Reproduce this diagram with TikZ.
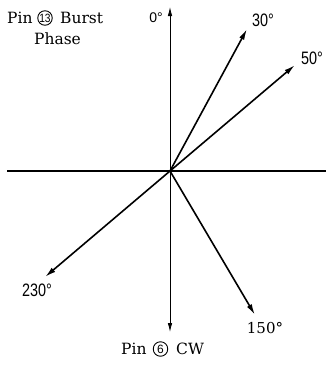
\documentclass[tikz,border=0pt]{standalone}
\usepackage{fontspec}
\usepackage{graphicx}
\setmainfont{DejaVu Serif}
\newfontfamily\numf{Liberation Sans}
\usetikzlibrary{arrows.meta}
\tikzset{
  vec/.style={line width=1.6pt,-{Latex[length=11pt,width=5.5pt]}},
  axisarrow/.style={line width=0.8pt,-{Latex[length=9pt,width=4.5pt]}},
  axisline/.style={line width=1.1pt},
  lbl/.style={font=\fontsize{15.5}{15.5}\selectfont,inner sep=0pt},
  numlbl/.style={font=\numf\fontsize{18}{18}\selectfont,inner sep=0pt},
  circnum/.style={circle,draw,line width=0.9pt,inner sep=0pt,minimum size=14.5pt,font=\numf\fontsize{12}{12}\selectfont}
}
\begin{document}
\begin{tikzpicture}[x=1pt,y=-1pt]
\useasboundingbox (0,0) rectangle (326,365);
% origin and tips
\coordinate (O) at (170,171);
\coordinate (Top) at (170,7);
\coordinate (Bot) at (170,332);
\coordinate (L) at (7,171);
\coordinate (R) at (326,171);
\coordinate (T30) at (247,29);
\coordinate (T50) at (295,65);
\coordinate (T150) at (255,315);
\coordinate (T230) at (45,277);
% axes
\draw[axisline] (L) -- (R);
\draw[axisarrow] (O) -- (Top);
\draw[axisarrow] (O) -- (Bot);
% vectors
\draw[vec] (O) -- (T30);
\draw[vec] (O) -- (T50);
\draw[vec] (O) -- (T150);
\draw[vec] (O) -- (T230);
% labels
\node[lbl,anchor=base west] (pin13) at (7,23) {Pin};
\node[circnum] (c13) at (45,18) {\scalebox{0.85}[1]{13}};
\node[lbl,anchor=base west] (burst) at (60,23) {Burst};
\node[lbl,anchor=base] (phase) at (57.5,44) {Phase};
\node[lbl,anchor=base west] (pin6) at (121,354) {Pin};
\node[circnum] (c6) at (160.5,349) {6};
\node[lbl,anchor=base west] (cw) at (176,354) {CW};
\node[font=\numf\fontsize{14}{14}\selectfont,inner sep=0pt] (l0) at (156,18) {0°};
\node[numlbl] (l30) at (263,20) {\scalebox{0.8}[1]{30°}};
\node[numlbl] (l50) at (312,58) {\scalebox{0.8}[1]{50°}};
\node[numlbl] (l230) at (37,290) {\scalebox{0.8}[1]{230°}};
\node[font=\fontsize{15}{15}\selectfont,inner sep=0pt] (l150) at (265,328) {150°};
\end{tikzpicture}
\end{document}
